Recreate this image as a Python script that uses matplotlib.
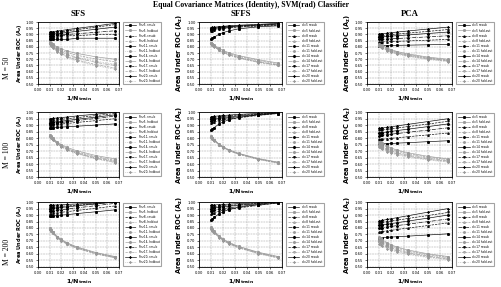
import matplotlib.pyplot as plt

# training sample sizes (x axis is 1/Ntrain)
n_train = [100, 90, 80, 60, 50, 40, 30, 20, 15]
dims = [5, 8, 11, 14, 17, 20]

# ---- M = 50 ----
sfs50_resub = [
    [0.86, 0.86, 0.86, 0.86, 0.86, 0.86, 0.87, 0.87, 0.87],
    [0.88, 0.88, 0.88, 0.88, 0.89, 0.89, 0.89, 0.90, 0.90],
    [0.89, 0.89, 0.89, 0.895, 0.897, 0.90, 0.906, 0.918, 0.93],
    [0.90, 0.901, 0.903, 0.907, 0.911, 0.916, 0.925, 0.942, 0.96],
    [0.91, 0.911, 0.913, 0.918, 0.922, 0.929, 0.939, 0.959, 0.98],
    [0.92, 0.921, 0.923, 0.928, 0.932, 0.939, 0.949, 0.969, 0.99],
]
sfs50_hold = [
    [0.84, 0.832, 0.822, 0.798, 0.784, 0.767, 0.748, 0.72, 0.70],
    [0.835, 0.826, 0.815, 0.789, 0.773, 0.754, 0.733, 0.702, 0.68],
    [0.83, 0.82, 0.808, 0.779, 0.762, 0.742, 0.718, 0.684, 0.66],
    [0.83, 0.819, 0.807, 0.776, 0.758, 0.736, 0.711, 0.675, 0.65],
    [0.825, 0.813, 0.80, 0.767, 0.747, 0.724, 0.696, 0.657, 0.63],
    [0.82, 0.808, 0.794, 0.76, 0.74, 0.716, 0.688, 0.648, 0.62],
]
sffs50_resub = [
    [0.86, 0.869, 0.878, 0.902, 0.915, 0.929, 0.946, 0.962, 0.97],
    [0.93, 0.932, 0.935, 0.942, 0.947, 0.953, 0.96, 0.968, 0.975],
    [0.94, 0.942, 0.944, 0.95, 0.954, 0.959, 0.965, 0.972, 0.98],
    [0.945, 0.947, 0.949, 0.955, 0.959, 0.963, 0.968, 0.976, 0.985],
    [0.95, 0.952, 0.954, 0.959, 0.962, 0.966, 0.971, 0.978, 0.985],
    [0.955, 0.957, 0.959, 0.963, 0.966, 0.97, 0.975, 0.982, 0.99],
]
sffs50_hold = [
    [0.835, 0.826, 0.815, 0.788, 0.772, 0.753, 0.73, 0.697, 0.67],
    [0.832, 0.822, 0.811, 0.783, 0.767, 0.747, 0.724, 0.69, 0.665],
    [0.83, 0.82, 0.808, 0.779, 0.762, 0.742, 0.718, 0.684, 0.66],
    [0.828, 0.818, 0.806, 0.776, 0.759, 0.739, 0.714, 0.68, 0.655],
    [0.826, 0.816, 0.804, 0.774, 0.757, 0.736, 0.711, 0.676, 0.652],
    [0.824, 0.814, 0.802, 0.772, 0.754, 0.733, 0.708, 0.673, 0.65],
]
pca50_resub = [
    [0.81, 0.81, 0.81, 0.811, 0.812, 0.813, 0.814, 0.817, 0.82],
    [0.84, 0.84, 0.841, 0.842, 0.844, 0.845, 0.848, 0.854, 0.86],
    [0.86, 0.861, 0.861, 0.864, 0.865, 0.868, 0.872, 0.881, 0.89],
    [0.88, 0.881, 0.882, 0.885, 0.887, 0.891, 0.896, 0.908, 0.92],
    [0.89, 0.891, 0.892, 0.896, 0.899, 0.903, 0.911, 0.925, 0.94],
    [0.905, 0.906, 0.907, 0.911, 0.915, 0.92, 0.928, 0.944, 0.96],
]
pca50_hold = [
    [0.83, 0.822, 0.813, 0.791, 0.778, 0.762, 0.744, 0.718, 0.70],
    [0.825, 0.817, 0.808, 0.786, 0.773, 0.757, 0.739, 0.713, 0.695],
    [0.82, 0.812, 0.803, 0.781, 0.768, 0.752, 0.734, 0.708, 0.69],
    [0.815, 0.808, 0.799, 0.778, 0.765, 0.75, 0.733, 0.708, 0.69],
    [0.81, 0.803, 0.794, 0.773, 0.76, 0.745, 0.728, 0.703, 0.685],
    [0.805, 0.798, 0.789, 0.768, 0.755, 0.74, 0.723, 0.698, 0.68],
]

# ---- M = 100 ----
sfs100_resub = [
    [0.88, 0.881, 0.881, 0.884, 0.885, 0.888, 0.892, 0.901, 0.91],
    [0.90, 0.901, 0.902, 0.906, 0.909, 0.913, 0.921, 0.935, 0.95],
    [0.91, 0.911, 0.913, 0.917, 0.921, 0.926, 0.935, 0.952, 0.97],
    [0.92, 0.921, 0.923, 0.927, 0.931, 0.936, 0.945, 0.962, 0.98],
    [0.935, 0.936, 0.937, 0.941, 0.945, 0.95, 0.958, 0.974, 0.99],
    [0.95, 0.951, 0.952, 0.956, 0.959, 0.963, 0.971, 0.985, 1.0],
]
sfs100_hold = [
    [0.825, 0.814, 0.801, 0.77, 0.751, 0.729, 0.703, 0.666, 0.64],
    [0.822, 0.81, 0.797, 0.764, 0.745, 0.722, 0.695, 0.657, 0.63],
    [0.82, 0.808, 0.795, 0.762, 0.742, 0.719, 0.691, 0.652, 0.625],
    [0.818, 0.806, 0.792, 0.759, 0.739, 0.715, 0.687, 0.648, 0.62],
    [0.816, 0.804, 0.79, 0.756, 0.736, 0.711, 0.683, 0.643, 0.615],
    [0.815, 0.803, 0.788, 0.754, 0.733, 0.708, 0.68, 0.639, 0.61],
]
sffs100_resub = [
    [0.86, 0.87, 0.881, 0.909, 0.925, 0.942, 0.961, 0.981, 0.99],
    [0.92, 0.923, 0.926, 0.935, 0.94, 0.947, 0.957, 0.975, 0.99],
    [0.935, 0.937, 0.94, 0.947, 0.951, 0.957, 0.965, 0.979, 0.995],
    [0.945, 0.947, 0.949, 0.955, 0.959, 0.964, 0.971, 0.983, 0.995],
    [0.955, 0.957, 0.959, 0.964, 0.967, 0.971, 0.977, 0.987, 0.998],
    [0.965, 0.966, 0.968, 0.972, 0.975, 0.978, 0.983, 0.991, 0.999],
]
sffs100_hold = [
    [0.815, 0.803, 0.789, 0.755, 0.735, 0.711, 0.683, 0.643, 0.615],
    [0.813, 0.801, 0.787, 0.753, 0.733, 0.709, 0.681, 0.641, 0.613],
    [0.811, 0.799, 0.785, 0.751, 0.731, 0.707, 0.679, 0.639, 0.611],
    [0.81, 0.798, 0.784, 0.75, 0.73, 0.706, 0.678, 0.638, 0.61],
    [0.808, 0.796, 0.782, 0.748, 0.728, 0.704, 0.676, 0.636, 0.608],
    [0.806, 0.794, 0.78, 0.747, 0.727, 0.703, 0.675, 0.635, 0.606],
]
pca100_resub = [
    [0.755, 0.756, 0.756, 0.758, 0.759, 0.762, 0.765, 0.773, 0.78],
    [0.79, 0.791, 0.792, 0.796, 0.799, 0.803, 0.811, 0.825, 0.84],
    [0.82, 0.821, 0.823, 0.827, 0.831, 0.836, 0.845, 0.862, 0.88],
    [0.84, 0.841, 0.843, 0.848, 0.852, 0.859, 0.869, 0.889, 0.91],
    [0.86, 0.861, 0.863, 0.868, 0.872, 0.879, 0.889, 0.909, 0.93],
    [0.875, 0.877, 0.878, 0.884, 0.888, 0.895, 0.906, 0.928, 0.95],
]
pca100_hold = [
    [0.78, 0.772, 0.762, 0.738, 0.724, 0.707, 0.688, 0.66, 0.64],
    [0.77, 0.762, 0.752, 0.73, 0.716, 0.70, 0.681, 0.654, 0.635],
    [0.76, 0.752, 0.743, 0.721, 0.708, 0.692, 0.674, 0.648, 0.63],
    [0.75, 0.743, 0.734, 0.713, 0.70, 0.685, 0.668, 0.643, 0.625],
    [0.74, 0.733, 0.724, 0.704, 0.692, 0.678, 0.661, 0.637, 0.62],
    [0.73, 0.723, 0.715, 0.696, 0.684, 0.67, 0.654, 0.631, 0.615],
]

# ---- M = 200 ----
sfs200_resub = [
    [0.89, 0.891, 0.892, 0.896, 0.899, 0.903, 0.911, 0.925, 0.94],
    [0.91, 0.911, 0.913, 0.917, 0.921, 0.926, 0.935, 0.952, 0.97],
    [0.93, 0.931, 0.933, 0.937, 0.941, 0.946, 0.955, 0.972, 0.99],
    [0.95, 0.951, 0.952, 0.956, 0.959, 0.963, 0.971, 0.985, 1.0],
    [0.96, 0.961, 0.962, 0.965, 0.967, 0.971, 0.976, 0.988, 1.0],
    [0.975, 0.976, 0.976, 0.978, 0.979, 0.982, 0.985, 0.993, 1.0],
]
sfs200_hold = [
    [0.80, 0.787, 0.771, 0.734, 0.712, 0.686, 0.655, 0.611, 0.58],
    [0.797, 0.784, 0.768, 0.731, 0.709, 0.683, 0.652, 0.608, 0.577],
    [0.795, 0.782, 0.766, 0.729, 0.707, 0.681, 0.65, 0.606, 0.575],
    [0.793, 0.78, 0.764, 0.727, 0.705, 0.679, 0.648, 0.604, 0.573],
    [0.79, 0.777, 0.761, 0.724, 0.702, 0.676, 0.645, 0.601, 0.57],
    [0.788, 0.775, 0.759, 0.722, 0.70, 0.674, 0.643, 0.599, 0.568],
]
sffs200_resub = [
    [0.86, 0.87, 0.881, 0.909, 0.925, 0.942, 0.961, 0.981, 0.99],
    [0.91, 0.914, 0.918, 0.929, 0.936, 0.944, 0.955, 0.974, 0.995],
    [0.93, 0.933, 0.936, 0.944, 0.949, 0.956, 0.965, 0.981, 0.998],
    [0.95, 0.952, 0.954, 0.96, 0.964, 0.968, 0.975, 0.987, 1.0],
    [0.96, 0.962, 0.963, 0.968, 0.971, 0.974, 0.98, 0.99, 1.0],
    [0.975, 0.976, 0.977, 0.98, 0.982, 0.984, 0.988, 0.994, 1.0],
]
sffs200_hold = [
    [0.805, 0.792, 0.776, 0.738, 0.716, 0.689, 0.658, 0.613, 0.58],
    [0.802, 0.789, 0.773, 0.735, 0.713, 0.686, 0.655, 0.61, 0.577],
    [0.80, 0.787, 0.771, 0.733, 0.711, 0.684, 0.653, 0.608, 0.575],
    [0.798, 0.785, 0.769, 0.731, 0.709, 0.682, 0.651, 0.606, 0.573],
    [0.795, 0.782, 0.766, 0.728, 0.706, 0.679, 0.648, 0.603, 0.57],
    [0.792, 0.779, 0.763, 0.725, 0.703, 0.676, 0.645, 0.60, 0.567],
]
pca200_resub = [
    [0.725, 0.726, 0.726, 0.729, 0.73, 0.733, 0.737, 0.746, 0.755],
    [0.77, 0.771, 0.773, 0.778, 0.782, 0.789, 0.799, 0.819, 0.84],
    [0.80, 0.801, 0.803, 0.808, 0.812, 0.819, 0.829, 0.849, 0.87],
    [0.82, 0.822, 0.824, 0.829, 0.834, 0.841, 0.853, 0.876, 0.90],
    [0.84, 0.842, 0.844, 0.849, 0.854, 0.861, 0.873, 0.896, 0.92],
    [0.855, 0.857, 0.859, 0.866, 0.872, 0.88, 0.894, 0.922, 0.95],
]
pca200_hold = [
    [0.73, 0.721, 0.71, 0.685, 0.67, 0.652, 0.631, 0.601, 0.58],
    [0.72, 0.711, 0.701, 0.677, 0.662, 0.645, 0.624, 0.595, 0.575],
    [0.71, 0.702, 0.692, 0.668, 0.654, 0.637, 0.618, 0.59, 0.57],
    [0.70, 0.692, 0.682, 0.66, 0.646, 0.63, 0.611, 0.584, 0.565],
    [0.69, 0.682, 0.673, 0.651, 0.638, 0.622, 0.604, 0.578, 0.56],
    [0.675, 0.668, 0.659, 0.639, 0.627, 0.613, 0.596, 0.572, 0.555],
]

methods = ['SFS', 'SFFS', 'PCA']
row_labels = ['M = 50', 'M = 100', 'M = 200']
panels = [
    [(sfs50_resub, sfs50_hold), (sffs50_resub, sffs50_hold), (pca50_resub, pca50_hold)],
    [(sfs100_resub, sfs100_hold), (sffs100_resub, sffs100_hold), (pca100_resub, pca100_hold)],
    [(sfs200_resub, sfs200_hold), (sffs200_resub, sffs200_hold), (pca200_resub, pca200_hold)],
]

x_vals = [1.0 / n for n in n_train]
markers = ['s', '^', 'o', 'D', 'v', 'x']
resub_ls = ['-', '--', '-.', '-', '--', '-']
hold_ls = ['-', '--', ':', '-.', '--', ':']

fig = plt.figure(figsize=(5.02, 2.87), dpi=100)

# axes boxes in figure fractions (left, width) per column, (bottom, height) per row
col_pos = [(0.076, 0.161), (0.397, 0.165), (0.731, 0.170)]
row_pos = [(0.707, 0.216), (0.383, 0.226), (0.070, 0.226)]

for r in range(3):
    for c in range(3):
        left, width = col_pos[c]
        bottom, height = row_pos[r]
        ax = fig.add_axes([left, bottom, width, height])
        resub, hold = panels[r][c]
        for i, d in enumerate(dims):
            if c == 0:
                lab_r = 'Fisr{}, resub'.format(d)
                lab_h = 'Fisr{}, holdout'.format(d)
            else:
                lab_r = 'd={} resub'.format(d)
                lab_h = 'd={} hold-out'.format(d)
            ax.plot(x_vals, resub[i], color='black', ls=resub_ls[i],
                    marker=markers[i], markersize=1.1, lw=0.45, label=lab_r)
            ax.plot(x_vals, hold[i], color='0.6', ls=hold_ls[i],
                    marker=markers[i], markersize=1.1, lw=0.45,
                    markerfacecolor='white', label=lab_h)

        ax.set_xlim(0, 0.07)
        ax.set_ylim(0.5, 1.0)
        ax.set_xticks([0.00, 0.01, 0.02, 0.03, 0.04, 0.05, 0.06, 0.07])
        ax.set_yticks([0.50, 0.55, 0.60, 0.65, 0.70, 0.75, 0.80, 0.85, 0.90, 0.95, 1.00])
        ax.xaxis.set_major_formatter(plt.FormatStrFormatter('%.2f'))
        ax.yaxis.set_major_formatter(plt.FormatStrFormatter('%.2f'))
        ax.tick_params(labelsize=2.7, length=1.2, width=0.4, pad=1.5)
        ax.grid(True, ls='--', color='0.6', lw=0.35)
        for sp in ax.spines.values():
            sp.set_linewidth(0.6)

        ysize = 3.6 if c == 0 else 4.8
        ax.set_ylabel('Area Under ROC (A$_\\mathbf{z}$)', fontsize=ysize,
                      fontweight='bold', labelpad=1.5)
        ax.set_xlabel('1/N$_\\mathbf{train}$', fontsize=4.6, fontweight='bold',
                      labelpad=2)

        leg = ax.legend(loc='center left', bbox_to_anchor=(1.03, 0.5),
                        fontsize=2.1, frameon=True, fancybox=False,
                        handlelength=4, labelspacing=0.35, borderpad=0.6)
        leg.get_frame().set_edgecolor('0.55')
        leg.get_frame().set_linewidth(0.8)

        if r == 0:
            ax.text(0.5, 1.06, methods[c], transform=ax.transAxes, ha='center',
                    va='bottom', fontsize=6.3, fontweight='bold',
                    family='Liberation Serif')

for r in range(3):
    ycen = [0.763, 0.46, 0.122][r]
    fig.text(0.013, ycen, row_labels[r], rotation=90, ha='center', va='center',
             fontsize=5.5, family='Liberation Serif')

fig.suptitle('Equal Covariance Matrices (Identity), SVM(rad) Classifier',
             x=0.5, y=0.998, fontsize=5.6, fontweight='bold',
             family='Liberation Serif')

fig.savefig('out.png', dpi=100)
